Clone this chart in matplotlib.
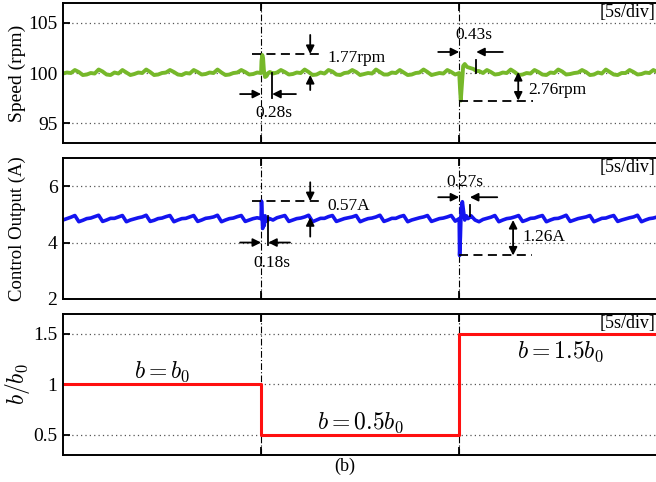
import numpy as np
import matplotlib
matplotlib.use("Agg")
from matplotlib import pyplot as plt

plt.rcParams['font.family'] = ['Liberation Serif', 'DejaVu Serif']
plt.rcParams['mathtext.fontset'] = 'cm'

# speed (rpm), sampled every 0.1 s from 0 to 15 s
speed = [
    99.95, 100.05, 100.0, 100.3, 100.1, 99.8, 99.85, 100.0, 99.95, 100.35, 100.15, 99.85,
    99.8, 100.05, 99.95, 100.3, 100.05, 99.8, 99.9, 100.05, 100.0, 100.35, 100.1, 99.8,
    99.85, 100.0, 100.05, 100.3, 100.1, 99.85, 99.8, 100.0, 99.95, 100.3, 100.1, 99.85,
    99.9, 100.05, 100.0, 100.35, 100.05, 99.8, 99.85, 100.0, 100.05, 100.3, 100.1, 99.85,
    99.9, 100.05, 100.0, 100.1, 100.0, 99.95, 100.05, 100.3, 100.1, 99.85, 99.9, 100.05,
    100.0, 100.35, 100.1, 99.8, 99.85, 100.05, 99.95, 100.3, 100.15, 99.85, 99.8, 100.0,
    100.05, 100.3, 100.1, 99.8, 99.9, 100.0, 99.95, 100.35, 100.1, 99.85, 99.85, 100.05,
    100.0, 100.3, 100.05, 99.8, 99.85, 100.0, 100.05, 100.35, 100.1, 99.8, 99.9, 100.0,
    99.95, 100.3, 100.1, 99.85, 100.0, 100.2, 100.5, 100.4, 100.3, 100.2, 100.0, 100.3,
    100.1, 99.85, 99.9, 100.05, 100.0, 100.35, 100.1, 99.8, 99.85, 100.0, 99.95, 100.3,
    100.1, 99.85, 99.8, 100.05, 100.0, 100.35, 100.15, 99.85, 99.9, 100.0, 100.05, 100.3,
    100.1, 99.8, 99.85, 100.05, 99.95, 100.35, 100.1, 99.85, 99.8, 100.0, 100.0, 100.3,
    100.1, 99.85, 99.9, 100.05, 100.0, 100.3, 100.1,
]
# control output (A), same sampling
current = [
    4.8, 4.85, 4.9, 4.96, 4.74, 4.79, 4.85, 4.87, 4.92, 4.97, 4.75, 4.8,
    4.86, 4.86, 4.91, 4.96, 4.74, 4.8, 4.84, 4.88, 4.91, 4.97, 4.75, 4.79,
    4.85, 4.87, 4.92, 4.96, 4.74, 4.8, 4.85, 4.86, 4.91, 4.96, 4.75, 4.8,
    4.86, 4.88, 4.91, 4.97, 4.74, 4.8, 4.85, 4.87, 4.92, 4.96, 4.75, 4.8,
    4.85, 4.88, 4.85, 4.9, 4.86, 4.8, 4.88, 4.92, 4.96, 4.75, 4.8, 4.85,
    4.87, 4.91, 4.97, 4.74, 4.8, 4.86, 4.86, 4.92, 4.96, 4.75, 4.8, 4.85,
    4.88, 4.91, 4.96, 4.74, 4.8, 4.85, 4.87, 4.91, 4.97, 4.75, 4.8, 4.86,
    4.86, 4.92, 4.96, 4.74, 4.8, 4.84, 4.88, 4.91, 4.96, 4.75, 4.8, 4.85,
    4.87, 4.91, 4.96, 4.76, 4.85, 4.9, 4.85, 4.95, 4.8, 4.74, 4.82, 4.86,
    4.9, 4.96, 4.74, 4.8, 4.85, 4.87, 4.91, 4.96, 4.75, 4.8, 4.86, 4.87,
    4.92, 4.96, 4.74, 4.8, 4.85, 4.86, 4.91, 4.97, 4.75, 4.8, 4.85, 4.88,
    4.91, 4.96, 4.74, 4.8, 4.86, 4.87, 4.92, 4.96, 4.75, 4.8, 4.84, 4.88,
    4.91, 4.97, 4.74, 4.8, 4.85, 4.87, 4.91,
]

# transients after the b changes
spd_t1 = [5.0, 5.01, 5.03, 5.05, 5.07, 5.10, 5.14, 5.18, 5.22, 5.28]
spd_v1 = [100.0, 101.2, 101.8, 101.5, 100.3, 99.6, 99.7, 100.0, 100.1, 100.0]
spd_t2 = [10.0, 10.02, 10.04, 10.07, 10.1, 10.14, 10.2, 10.28, 10.36, 10.43]
spd_v2 = [100.0, 98.5, 97.25, 99.0, 100.7, 100.9, 100.6, 100.5, 100.4, 100.2]
cur_t1 = [5.0, 5.01, 5.02, 5.04, 5.06, 5.08, 5.10, 5.12, 5.15, 5.18]
cur_v1 = [4.85, 5.47, 5.2, 4.5, 4.9, 4.6, 4.95, 4.75, 4.85, 4.8]
cur_t2 = [10.0, 10.01, 10.03, 10.05, 10.08, 10.11, 10.14, 10.18, 10.22, 10.27]
cur_v2 = [4.85, 3.54, 4.2, 5.2, 5.45, 5.1, 4.8, 4.95, 4.85, 4.9]

# b/b0 steps
b_t = [0, 5, 10, 15]
b_v = [1.0, 0.5, 1.5, 1.5]

t_base = np.round(np.arange(len(speed)) * 0.1, 2)


def merge(base, ev):
    keep = np.ones(len(t_base), bool)
    for tt, _ in ev:
        keep &= ~((t_base >= tt[0]) & (t_base <= tt[-1]))
    t = np.concatenate([t_base[keep]] + [np.array(tt) for tt, _ in ev])
    v = np.concatenate([np.array(base)[keep]] + [np.array(vv) for _, vv in ev])
    o = np.argsort(t, kind="stable")
    return t[o], v[o]


ts, vs = merge(speed, [(spd_t1, spd_v1), (spd_t2, spd_v2)])
tc, vc = merge(current, [(cur_t1, cur_v1), (cur_t2, cur_v2)])

fig = plt.figure(figsize=(6.56, 4.82), dpi=100)
ax1 = fig.add_axes([0.096, 0.703, 0.906, 0.291])
ax2 = fig.add_axes([0.096, 0.380, 0.906, 0.292])
ax3 = fig.add_axes([0.096, 0.056, 0.906, 0.293])

for ax in (ax1, ax2, ax3):
    ax.set_xlim(0, 15)
    ax.set_xticks([5, 10])
    ax.set_xticklabels([])
    ax.tick_params(axis='both', direction='in', length=5, width=1.3,
                   labelsize=14, top=True, pad=4)
    ax.tick_params(axis='x', length=6)
    for s in ax.spines.values():
        s.set_linewidth(1.4)
    ax.grid(axis='y', linestyle=(0, (1, 2.5)), color='#555555', linewidth=0.9)
    for xv in (5, 10):
        ax.axvline(xv, color='k', linestyle=(0, (6, 2, 1, 2)), linewidth=0.8)
    ax.text(14.95, 0.93, '[5s/div]', transform=ax.get_xaxis_transform(),
            ha='right', va='center', fontsize=13)

arr = dict(arrowstyle='-|>', color='k', lw=1.3, mutation_scale=12,
           shrinkA=0, shrinkB=0)
arr2 = dict(arrowstyle='<|-|>', color='k', lw=1.3, mutation_scale=12,
            shrinkA=0, shrinkB=0)
dash = dict(color='k', linestyle=(0, (5, 3)), linewidth=1.3)
fs = 12.5

# speed
ax1.plot(ts, vs, color='#76b82a', linewidth=2.8)
ax1.set_ylim(93, 107)
ax1.set_yticks([95, 100, 105])
ax1.set_ylabel('Speed (rpm)', fontsize=14)
ax1.plot([4.77, 6.54], [101.9, 101.9], **dash)
ax1.annotate('', xy=(6.24, 101.9), xytext=(6.24, 103.8), arrowprops=arr)
ax1.annotate('', xy=(6.24, 99.8), xytext=(6.24, 98.3), arrowprops=arr)
ax1.text(6.67, 101.5, '1.77rpm', fontsize=fs, ha='left', va='center')
ax1.annotate('', xy=(5.0, 97.9), xytext=(4.47, 97.9), arrowprops=arr)
ax1.annotate('', xy=(5.28, 97.9), xytext=(5.88, 97.9), arrowprops=arr)
ax1.plot([5.28, 5.28], [100.0, 97.5], color='k', linewidth=1.3)
ax1.text(5.32, 96.0, '0.28s', fontsize=fs, ha='center', va='center')
ax1.text(10.38, 103.8, '0.43s', fontsize=fs, ha='center', va='center')
ax1.annotate('', xy=(10.0, 102.1), xytext=(9.47, 102.1), arrowprops=arr)
ax1.annotate('', xy=(10.43, 102.1), xytext=(11.1, 102.1), arrowprops=arr)
ax1.plot([10.43, 10.43], [101.3, 100.0], color='k', linewidth=1.3)
ax1.plot([10.0, 11.87], [97.25, 97.25], **dash)
ax1.annotate('', xy=(11.49, 97.25), xytext=(11.49, 100.1), arrowprops=arr2)
ax1.text(11.74, 98.3, '2.76rpm', fontsize=fs, ha='left', va='center')

# control output
ax2.plot(tc, vc, color='#1414f0', linewidth=2.6)
ax2.set_ylim(2, 7)
ax2.set_yticks([2, 4, 6])
ax2.set_ylabel('Control Output (A)', fontsize=13.5)
ax2.plot([4.77, 6.54], [5.47, 5.47], **dash)
ax2.annotate('', xy=(6.24, 5.47), xytext=(6.24, 6.14), arrowprops=arr)
ax2.annotate('', xy=(6.24, 4.9), xytext=(6.24, 4.21), arrowprops=arr)
ax2.text(6.67, 5.29, '0.57A', fontsize=fs, ha='left', va='center')
ax2.annotate('', xy=(5.0, 4.0), xytext=(4.47, 4.0), arrowprops=arr)
ax2.annotate('', xy=(5.18, 4.0), xytext=(5.73, 4.0), arrowprops=arr)
ax2.plot([5.18, 5.18], [4.96, 3.9], color='k', linewidth=1.3)
ax2.text(5.28, 3.29, '0.18s', fontsize=fs, ha='center', va='center')
ax2.text(10.15, 6.14, '0.27s', fontsize=fs, ha='center', va='center')
ax2.annotate('', xy=(10.0, 5.61), xytext=(9.47, 5.61), arrowprops=arr)
ax2.annotate('', xy=(10.27, 5.61), xytext=(10.96, 5.61), arrowprops=arr)
ax2.plot([10.27, 10.27], [5.32, 4.96], color='k', linewidth=1.3)
ax2.plot([10.0, 11.84], [3.54, 3.54], **dash)
ax2.annotate('', xy=(11.36, 3.54), xytext=(11.36, 4.8), arrowprops=arr2)
ax2.text(11.59, 4.18, '1.26A', fontsize=fs, ha='left', va='center')

# b / b0
ax3.step(b_t, b_v, where='post', color='#ff1010', linewidth=2.2)
ax3.set_ylim(0.3, 1.7)
ax3.set_yticks([0.5, 1, 1.5])
ax3.set_yticklabels(['0.5', '1', '1.5'])
ax3.set_ylabel('$b/b_0$', fontsize=17)
ax3.text(2.5, 1.12, '$b = b_0$', fontsize=17, ha='center', va='center')
ax3.text(7.5, 0.62, '$b = 0.5b_0$', fontsize=17, ha='center', va='center')
ax3.text(12.55, 1.32, '$b = 1.5b_0$', fontsize=17, ha='center', va='center')

# all y labels on one vertical line
for ax in (ax1, ax2, ax3):
    ax.yaxis.set_label_coords(-0.076, 0.5)
    ax.yaxis.label.set_va('center')

fig.text(345 / 656, 1 - 466 / 482, '(b)', fontsize=13, ha='center', va='center')

fig.savefig('out.png', dpi=100)
